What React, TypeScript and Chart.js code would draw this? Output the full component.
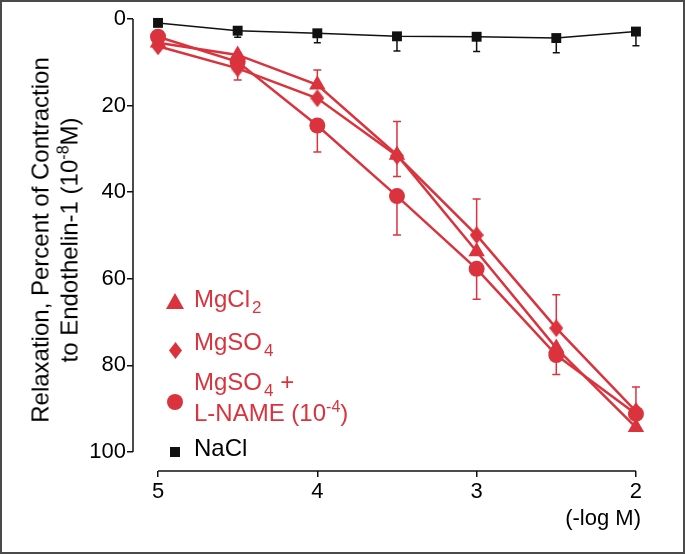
import React, { useEffect, useRef } from 'react';
import { Chart, registerables } from 'chart.js';

Chart.register(...registerables);

// ---- data ----
const doses = [5, 4.5, 4, 3.5, 3, 2.5, 2];
const xTickValues = [5, 4, 3, 2];
const yTickValues = [0, 20, 40, 60, 80, 100];

const mgcl2 = [5.5, 8.3, 15.2, 31.4, 53.7, 76.0, 94.3];
const mgcl2ErrTop = [null, null, 3.4, null, null, null, null];
const mgcl2ErrBottom = [null, null, null, 5.0, null, null, null];

const mgso4 = [6.3, 11.4, 18.3, 31.6, 49.9, 71.4, 90.6];
const mgso4ErrTop = [null, null, null, 7.9, 8.3, 7.7, null];
const mgso4ErrBottom = [null, 2.7, null, null, null, null, null];

const mgso4LName = [4.1, 9.9, 24.6, 40.9, 57.7, 77.6, 91.2];
const lnameErrTop = [null, null, null, null, null, null, 6.2];
const lnameErrBottom = [null, null, 6.1, 9.0, 7.0, 4.5, null];

const nacl = [0.9, 2.7, 3.3, 4.0, 4.1, 4.4, 2.9];
const naclErrTop = [null, null, null, null, null, null, null];
const naclErrBottom = [null, 1.5, 2.2, 3.4, 3.4, 3.4, 3.3];

const RED = '#db333d';
const BLACK = '#111111';
const FRAME = '#4a4a4a';
const FONT = "'Liberation Sans', Arial, Helvetica, sans-serif";

const toPoints = (vals: number[]) => doses.map((d, i) => ({ x: d, y: vals[i] }));

const errorBarPlugin = {
  id: 'errorBars',
  beforeDatasetsDraw(chart: any) {
    const { ctx } = chart;
    const xs = chart.scales.x;
    const ys = chart.scales.y;
    ctx.save();
    chart.data.datasets.forEach((ds: any) => {
      ctx.strokeStyle = ds.borderColor;
      ctx.lineWidth = ds.errWidth;
      const cap = ds.capHalf;
      ds.data.forEach((p: any, i: number) => {
        const px = xs.getPixelForValue(p.x);
        const py = ys.getPixelForValue(p.y);
        const draw = (v: number) => {
          const ey = ys.getPixelForValue(v);
          ctx.beginPath();
          ctx.moveTo(px, py);
          ctx.lineTo(px, ey);
          ctx.moveTo(px - cap, ey);
          ctx.lineTo(px + cap, ey);
          ctx.stroke();
        };
        if (ds.errTop && ds.errTop[i] != null) draw(p.y - ds.errTop[i]);
        if (ds.errBottom && ds.errBottom[i] != null) draw(p.y + ds.errBottom[i]);
      });
    });
    ctx.restore();
  },
};

const axisLinePlugin = {
  id: 'axisLines',
  beforeDatasetsDraw(chart: any) {
    const { ctx, chartArea } = chart;
    const xs = chart.scales.x;
    const ys = chart.scales.y;
    ctx.save();
    ctx.strokeStyle = BLACK;
    ctx.lineWidth = 1.5;
    ctx.beginPath();
    ctx.moveTo(xs.getPixelForValue(xTickValues[0]), chartArea.bottom);
    ctx.lineTo(xs.getPixelForValue(xTickValues[xTickValues.length - 1]), chartArea.bottom);
    ctx.moveTo(chartArea.left, ys.getPixelForValue(yTickValues[0]));
    ctx.lineTo(chartArea.left, ys.getPixelForValue(yTickValues[yTickValues.length - 1]));
    ctx.stroke();
    ctx.restore();
  },
};

const framePlugin = {
  id: 'frame',
  afterDraw(chart: any) {
    const { ctx, width, height } = chart;
    ctx.save();
    ctx.strokeStyle = FRAME;
    ctx.lineWidth = 2;
    ctx.strokeRect(1, 1, width - 2, height - 2);
    ctx.restore();
  },
};

function makeDiamond(w: number, h: number, color: string) {
  const c = document.createElement('canvas');
  c.width = w;
  c.height = h;
  const g = c.getContext('2d')!;
  g.fillStyle = color;
  g.beginPath();
  g.moveTo(w / 2, 0);
  g.lineTo(w, h / 2);
  g.lineTo(w / 2, h);
  g.lineTo(0, h / 2);
  g.closePath();
  g.fill();
  return c;
}

export default function App() {
  const ref = useRef<HTMLCanvasElement>(null);

  useEffect(() => {
    document.body.style.margin = '0';
    document.documentElement.style.overflow = 'hidden';
    const diamond = makeDiamond(14, 18, RED);
    const tickFont = { size: 22, family: FONT };
    const grid = {
      display: true,
      drawOnChartArea: false,
      drawTicks: true,
      tickLength: 6,
      color: BLACK,
      lineWidth: 1.5,
    };
    const chart = new Chart(ref.current!, {
      type: 'line',
      data: {
        datasets: [
          {
            label: 'NaCl',
            data: toPoints(nacl),
            borderColor: BLACK,
            backgroundColor: BLACK,
            borderWidth: 1.5,
            pointStyle: 'rect',
            pointRadius: 7,
            pointBorderWidth: 0,
            errTop: naclErrTop,
            errBottom: naclErrBottom,
            errWidth: 1.5,
            capHalf: 3.5,
          } as any,
          {
            label: 'MgSO4 + L-NAME',
            data: toPoints(mgso4LName),
            borderColor: RED,
            backgroundColor: RED,
            borderWidth: 2.5,
            pointStyle: 'circle',
            pointRadius: 8,
            pointBorderWidth: 0,
            errTop: lnameErrTop,
            errBottom: lnameErrBottom,
            errWidth: 1.5,
            capHalf: 4,
          } as any,
          {
            label: 'MgSO4',
            data: toPoints(mgso4),
            borderColor: RED,
            backgroundColor: RED,
            borderWidth: 2.5,
            pointStyle: diamond,
            pointRadius: 7,
            errTop: mgso4ErrTop,
            errBottom: mgso4ErrBottom,
            errWidth: 1.5,
            capHalf: 4,
          } as any,
          {
            label: 'MgCl2',
            data: toPoints(mgcl2),
            borderColor: RED,
            backgroundColor: RED,
            borderWidth: 2.5,
            pointStyle: 'triangle',
            pointRadius: 9.5,
            pointBorderWidth: 0,
            errTop: mgcl2ErrTop,
            errBottom: mgcl2ErrBottom,
            errWidth: 1.5,
            capHalf: 4,
          } as any,
        ],
      },
      options: {
        responsive: false,
        animation: false,
        devicePixelRatio: 1,
        layout: { padding: { top: 19, right: 43, bottom: 0, left: 0 } },
        elements: { line: { tension: 0 } },
        datasets: { line: { clip: false } as any },
        plugins: {
          legend: { display: false },
          tooltip: { enabled: false },
        },
        scales: {
          x: {
            type: 'linear',
            reverse: true,
            min: 1.962,
            max: 5.157,
            afterBuildTicks: (s: any) => {
              s.ticks = xTickValues.map((v) => ({ value: v }));
            },
            afterFit: (s: any) => {
              s.height = 83;
            },
            ticks: { color: '#000', font: tickFont, padding: 2, maxRotation: 0, autoSkip: false },
            grid,
            border: { display: false },
          },
          y: {
            type: 'linear',
            reverse: true,
            min: 0,
            max: 104.39,
            afterBuildTicks: (s: any) => {
              s.ticks = yTickValues.map((v) => ({ value: v }));
            },
            afterFit: (s: any) => {
              s.width = 133;
            },
            ticks: { color: '#000', font: tickFont, padding: 1, autoSkip: false },
            grid,
            border: { display: false },
          },
        },
      } as any,
      plugins: [axisLinePlugin, errorBarPlugin, framePlugin],
    });
    return () => chart.destroy();
  }, []);

  const textLine = (cy: number, content: React.ReactNode, color: string) => (
    <div
      style={{
        position: 'absolute',
        left: 194,
        top: cy - 15,
        fontSize: 24,
        lineHeight: '30px',
        whiteSpace: 'nowrap',
        color,
      }}
    >
      {content}
    </div>
  );
  const sub = (t: string) => (
    <span style={{ fontSize: 17, position: 'relative', top: 6, marginLeft: 2 }}>{t}</span>
  );
  const sup = (t: string) => (
    <span style={{ fontSize: 16, position: 'relative', top: -9 }}>{t}</span>
  );
  const icon = (cx: number, cy: number, w: number, h: number, shape: React.ReactNode) => (
    <svg
      width={w}
      height={h}
      style={{ position: 'absolute', left: cx - w / 2, top: cy - h / 2 }}
      viewBox={`0 0 ${w} ${h}`}
    >
      {shape}
    </svg>
  );

  return (
    <div
      style={{
        position: 'fixed',
        left: 0,
        top: 0,
        width: 685,
        height: 554,
        background: '#fff',
        overflow: 'hidden',
        fontFamily: FONT,
      }}
    >
      <canvas ref={ref} width={685} height={554} style={{ position: 'absolute', left: 0, top: 0 }} />

      {/* y-axis title */}
      <div
        style={{
          position: 'absolute',
          left: 56,
          top: 240,
          width: 480,
          transform: 'translate(-50%, -50%) rotate(-90deg)',
          textAlign: 'center',
          fontSize: 24,
          lineHeight: '29px',
          color: '#000',
          whiteSpace: 'nowrap',
        }}
      >
        <div>Relaxation, Percent of Contraction</div>
        <div>
          to Endothelin-1 (10
          <span style={{ fontSize: 16, position: 'relative', top: -9 }}>-8</span>
          M)
        </div>
      </div>

      {/* x-axis unit label */}
      <div
        style={{
          position: 'absolute',
          right: 44,
          top: 505,
          fontSize: 22,
          lineHeight: '26px',
          color: '#000',
          whiteSpace: 'nowrap',
        }}
      >
        (-log M)
      </div>

      {/* legend */}
      {icon(175, 301, 18, 16, <polygon points="9,0 18,16 0,16" fill={RED} />)}
      {textLine(299, <>MgCl{sub('2')}</>, RED)}

      {icon(175, 350, 13, 17, <polygon points="6.5,0 13,8.5 6.5,17 0,8.5" fill={RED} />)}
      {textLine(342, <>MgSO{sub('4')}</>, RED)}

      {icon(175, 402, 16, 16, <circle cx="8" cy="8" r="8" fill={RED} />)}
      {textLine(382, <>MgSO{sub('4')} +</>, RED)}
      {textLine(413, <>L-NAME (10{sup('-4')})</>, RED)}

      {icon(175, 452, 10, 10, <rect x="0" y="0" width="10" height="10" fill={BLACK} />)}
      {textLine(448, <>NaCl</>, '#000')}
    </div>
  );
}
